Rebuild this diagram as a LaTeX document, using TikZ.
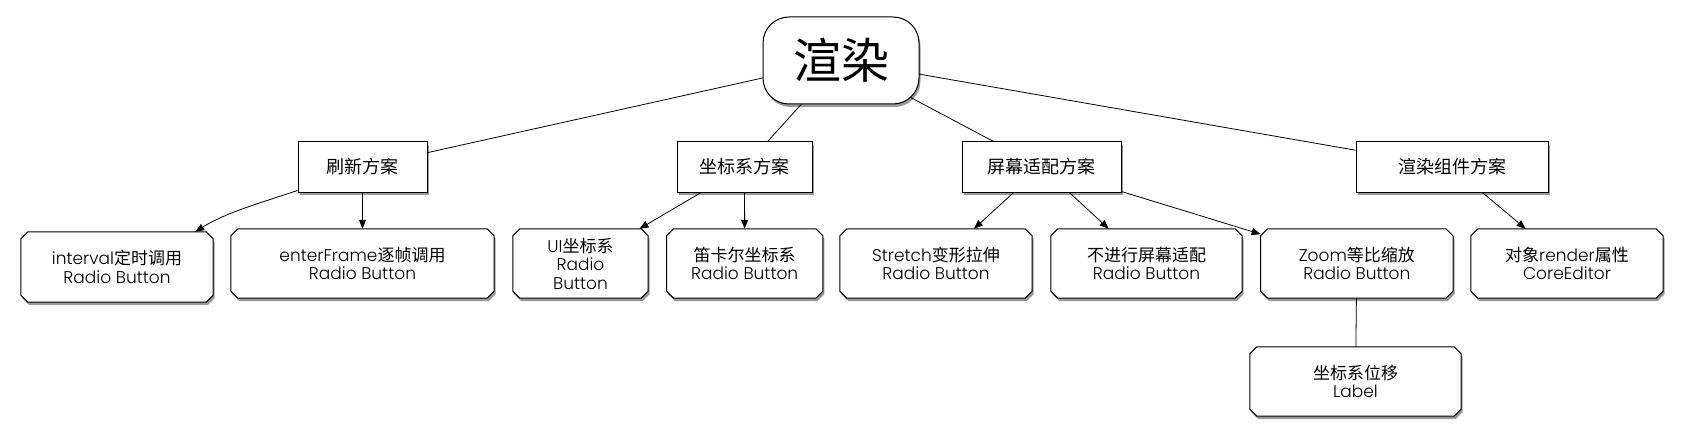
\documentclass[tikz,border=0pt]{standalone}
\usepackage{fontspec}
\setmainfont{Poppins}[UprightFont=* Light]
\newfontfamily\cjk{Noto Sans CJK SC}
\usetikzlibrary{shadows,arrows.meta}
\pgfdeclarelayer{background}
\pgfsetlayers{background,main}
\begin{document}
\begin{tikzpicture}[x=1pt,y=-1pt,
  dshadow/.style={drop shadow={shadow xshift=1.5pt,shadow yshift=-3pt,opacity=0.4,fill=black}},
  topbox/.style={draw,line width=1pt,fill=white,rounded corners=26pt,minimum width=156pt,minimum height=87pt,inner sep=0pt,font=\cjk\fontsize{48}{52}\selectfont,dshadow},
  midbox/.style={draw,line width=1pt,fill=white,minimum height=50pt,inner sep=0pt,font=\cjk\fontsize{18}{20}\selectfont,dshadow},
  leafbox/.style={minimum height=69pt,inner sep=0pt,align=center,font=\fontsize{17}{18.5}\selectfont},
  leafline/.style={draw,line width=1pt,fill=white,dshadow},
  edge/.style={line width=0.8pt},
  arr/.style={edge,-{Triangle[length=9pt,width=7pt]}}]
\useasboundingbox (0,0) rectangle (1682,441);
% root
\node[topbox] (root) at (841,60.5) {渲染};
% level 2
\node[midbox,minimum width=129pt] (refresh) at (362.5,167) {刷新方案};
\node[midbox,minimum width=135pt] (coord) at (744.5,167) {坐标系方案};
\node[midbox,minimum width=159pt] (screen) at (1041.5,167) {屏幕适配方案};
\node[midbox,minimum width=192pt] (comp) at (1452,167) {渲染组件方案};
% level 3
\node[leafbox,minimum width=192pt,minimum height=70pt] (interval) at (117,267) {interval{\cjk 定时调用}\\Radio Button};
\node[leafbox,minimum width=263pt] (enter) at (362.5,263.5) {enterFrame{\cjk 逐帧调用}\\Radio Button};
\node[leafbox,minimum width=135pt] (ui) at (580.5,263.5) {UI{\cjk 坐标系}\\Radio\\Button};
\node[leafbox,minimum width=156pt] (desc) at (744.7,263.5) {{\cjk 笛卡尔坐标系}\\Radio Button};
\node[leafbox,minimum width=192pt] (stretch) at (936,263.5) {Stretch{\cjk 变形拉伸}\\Radio Button};
\node[leafbox,minimum width=191pt] (noadapt) at (1146.5,263.5) {{\cjk 不进行屏幕适配}\\Radio Button};
\node[leafbox,minimum width=192pt] (zoom) at (1356.8,263.5) {Zoom{\cjk 等比缩放}\\Radio Button};
\node[leafbox,minimum width=192pt] (render) at (1567,263.5) {{\cjk 对象}render{\cjk 属性}\\CoreEditor};
\node[leafbox,minimum width=211pt] (shift) at (1355.5,381.5) {{\cjk 坐标系位移}\\Label};
% chamfered outlines and root edges behind
\begin{pgfonlayer}{background}
\foreach \n in {interval,enter,ui,desc,stretch,noadapt,zoom,render,shift}{
  \draw[leafline] ([xshift=7pt]\n.north west) -- ([xshift=-7pt]\n.north east) -- ([yshift=-7pt]\n.north east) -- ([yshift=7pt]\n.south east) -- ([xshift=-7pt]\n.south east) -- ([xshift=7pt]\n.south west) -- ([yshift=7pt]\n.south west) -- ([yshift=-7pt]\n.north west) -- cycle;
}
\draw[edge] (root.center) -- (refresh);
\draw[edge] (root.center) -- (coord);
\draw[edge] (root.center) -- (screen);
\draw[edge] (root.center) -- (comp);
\end{pgfonlayer}
% level 2 -> 3
\draw[arr] ([yshift=2pt]refresh.south west) .. controls (260,203) and (225,213) .. ([xshift=-18pt]interval.north east);
\draw[arr] (refresh) -- (enter);
\draw[arr] (coord) -- (ui);
\draw[arr] (coord) -- (desc);
\draw[arr] (screen) -- (stretch);
\draw[arr] (screen) -- (noadapt);
\draw[arr] (screen) -- (zoom);
\draw[arr] (comp) -- (render);
\draw[edge] (zoom) -- (shift);
\end{tikzpicture}
\end{document}
